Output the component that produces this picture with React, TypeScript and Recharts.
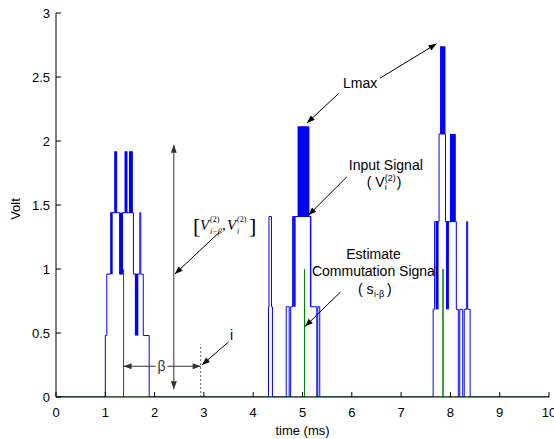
import React from "react";
import {
  LineChart,
  Line,
  XAxis,
  YAxis,
  ReferenceLine,
  ReferenceArea,
  ReferenceDot,
  Label,
} from "recharts";

const W = 554;
const H = 439;
const FONT = "'Liberation Sans', Arial, Helvetica, sans-serif";
const SERIF = "'Liberation Serif', 'Times New Roman', serif";

const xTicks = [0, 1, 2, 3, 4, 5, 6, 7, 8, 9, 10];
const yTicks = [0, 0.5, 1, 1.5, 2, 2.5, 3];

// input signal V_i^(2): level changes as [time (ms), new level (V)]
const burst1 = [
  [1.0, 0.48], [1.03, 0.96], [1.11, 1.44], [1.29, 0.96], [1.35, 1.44],
  [1.57, 0.96], [1.7, 1.44], [1.72, 0.96], [1.77, 0.48], [1.89, 0],
];
const burst2 = [
  [4.31, 0.705], [4.32, 1.41], [4.37, 0.705], [4.39, 0], [4.67, 0.705],
  [4.73, 0], [4.76, 0.705], [4.8, 1.41], [5.17, 0.705], [5.29, 0],
  [5.31, 0.705], [5.35, 0],
];
const burst3 = [
  [7.65, 0.685], [7.68, 1.37], [7.77, 2.055], [7.9, 1.37], [8.12, 0.685],
  [8.16, 0], [8.19, 0.685], [8.25, 0], [8.28, 0.685], [8.33, 1.37],
  [8.35, 0.685], [8.4, 0],
];

// fast switching regions (drawn solid): [t1, t2, low V, high V]
const switching = [
  [1.11, 1.15, 0.96, 1.44], [1.18, 1.24, 1.44, 1.92], [1.29, 1.35, 0.96, 1.44],
  [1.39, 1.45, 1.44, 1.92], [1.48, 1.56, 1.44, 1.92], [1.6, 1.67, 0.48, 0.96],
  [4.81, 4.86, 0.705, 1.41], [4.9, 5.14, 1.41, 2.115], [5.15, 5.17, 0.705, 1.41],
  [7.7, 7.76, 0.685, 1.37], [7.79, 7.9, 2.055, 2.74], [7.91, 7.97, 0.685, 1.37],
  [7.99, 8.11, 1.37, 2.055],
];

// estimate commutation signal s_{i-beta}
const commTimes = [1.37, 5.04, 7.85];
const commLevel = 1;

// annotation arrows: [x1, y1, x2, y2, double headed]
const arrows: [number, number, number, number, boolean][] = [
  [5.73, 2.37, 5.09, 2.14, false],
  [6.57, 2.49, 7.72, 2.76, false],
  [5.9, 1.72, 5.12, 1.42, false],
  [5.77, 0.82, 5.05, 0.55, false],
  [3.32, 1.29, 2.41, 0.96, false],
  [3.5, 0.43, 2.96, 0.25, false],
];
const gapArrows: [number, number, number, number][] = [
  [2.39, 0.06, 2.39, 1.97],
  [1.37, 0.24, 2.935, 0.24],
];
const markerLine = [2.935, 0, 2.935, 0.41];

const noteX = [6.17, 6.69, 6.44, 6.47, 3.56];
const noteY = [2.45, 1.81, 1.12, 0.98, 0.48];
const noteText = ["Lmax", "Input Signal", "Estimate", "Commutation Signal", "i"];

function steps(changes: number[][]) {
  const pts: { t: number; v: number }[] = [{ t: 0, v: 0 }];
  let cur = 0;
  for (const [t, v] of changes) {
    pts.push({ t, v: cur });
    pts.push({ t, v });
    cur = v;
  }
  pts.push({ t: 10, v: cur });
  return pts;
}

const inputData = steps([...burst1, ...burst2, ...burst3]);
const commData = steps(commTimes.flatMap((t) => [[t, commLevel], [t, 0]]));

function head(x: number, y: number, ang: number) {
  const L = 8;
  const w = 3;
  const bx = x - L * Math.cos(ang);
  const by = y - L * Math.sin(ang);
  const px = -Math.sin(ang) * w;
  const py = Math.cos(ang) * w;
  return `${x},${y} ${bx + px},${by + py} ${bx - px},${by - py}`;
}

function arrowShape(both: boolean, color: string) {
  return (p: any) => {
    const { x1, y1, x2, y2 } = p;
    const a = Math.atan2(y2 - y1, x2 - x1);
    return (
      <g>
        <line x1={x1} y1={y1} x2={x2} y2={y2} stroke={color} strokeWidth={1} />
        <polygon points={head(x2, y2, a)} fill={color} />
        {both && <polygon points={head(x1, y1, a + Math.PI)} fill={color} />}
      </g>
    );
  };
}

const BottomTick = (p: any) => (
  <g>
    <line x1={p.x} y1={p.y} x2={p.x} y2={p.y - 5} stroke="#000" />
    <text x={p.x} y={p.y + 20} textAnchor="middle" fontSize={13} fontFamily={FONT} fill="#000">
      {p.payload.value}
    </text>
  </g>
);
const TopTick = (p: any) => (
  <line x1={p.x} y1={p.y} x2={p.x} y2={p.y + 5} stroke="#000" />
);
const LeftTick = (p: any) => (
  <g>
    <line x1={p.x} y1={p.y} x2={p.x + 5} y2={p.y} stroke="#000" />
    <text x={p.x - 6} y={p.y + 4.5} textAnchor="end" fontSize={13} fontFamily={FONT} fill="#000">
      {p.payload.value}
    </text>
  </g>
);
const RightTick = (p: any) => (
  <line x1={p.x} y1={p.y} x2={p.x - 5} y2={p.y} stroke="#000" />
);

const XTitle = (p: any) => {
  const vb = p.viewBox ?? { x: 56, y: 397, width: 493, height: 42 };
  return (
    <text x={vb.x + vb.width / 2} y={vb.y + 38} textAnchor="middle" fontSize={13} fontFamily={FONT} fill="#000">
      time (ms)
    </text>
  );
};
const YTitle = (p: any) => {
  const vb = p.viewBox ?? { x: 0, y: 13, width: 56, height: 384 };
  const cx = vb.x + 15;
  const cy = vb.y + vb.height / 2 + 4;
  return (
    <text x={cx} y={cy} dy="0.35em" textAnchor="middle" fontSize={13} fontFamily={FONT} fill="#000" transform={`rotate(-90, ${cx}, ${cy})`}>
      Volt
    </text>
  );
};

const VLabel = (p: any) => {
  const x0 = p.cx - 19;
  const y = p.cy + 5;
  return (
    <g fontFamily={FONT} fill="#000">
      <text x={x0} y={y} fontSize={14}>( V</text>
      <text x={x0 + 18} y={y - 6} fontSize={9}>(2)</text>
      <text x={x0 + 18} y={y + 3} fontSize={9}>i</text>
      <text x={x0 + 30} y={y} fontSize={14}>)</text>
    </g>
  );
};
const SLabel = (p: any) => {
  const x0 = p.cx - 16;
  const y = p.cy + 5;
  return (
    <g fontFamily={FONT} fill="#000">
      <text x={x0} y={y} fontSize={14}>( s</text>
      <text x={x0 + 16} y={y + 3} fontSize={9}>i-β</text>
      <text x={x0 + 29} y={y} fontSize={14}>)</text>
    </g>
  );
};
const BracketLabel = (p: any) => {
  const x0 = p.cx;
  const y = p.cy + 5;
  return (
    <g fontFamily={SERIF} fill="#000">
      <text x={x0} y={y + 3} fontSize={22}>[</text>
      <text x={x0 + 7} y={y} fontSize={15} fontStyle="italic">V</text>
      <text x={x0 + 17} y={y - 8} fontSize={8}>(2)</text>
      <text x={x0 + 17} y={y + 4} fontSize={8} fontStyle="italic">i−β</text>
      <text x={x0 + 29} y={y} fontSize={15}>,</text>
      <text x={x0 + 34} y={y} fontSize={15} fontStyle="italic">V</text>
      <text x={x0 + 44} y={y - 8} fontSize={8}>(2)</text>
      <text x={x0 + 44} y={y + 4} fontSize={8} fontStyle="italic">i</text>
      <text x={x0 + 56} y={y + 3} fontSize={22}>]</text>
    </g>
  );
};
const BetaLabel = (p: any) => (
  <g>
    <rect x={p.cx - 6} y={p.cy - 8} width={12} height={16} fill="#fff" />
    <text x={p.cx} y={p.cy + 5} textAnchor="middle" fontSize={14} fontFamily={FONT} fill="#333">
      β
    </text>
  </g>
);

export default function App() {
  return (
    <div style={{ position: "absolute", left: 0, top: 0, width: W, height: H, background: "#fff" }}>
      <LineChart width={W} height={H} margin={{ top: 13, right: 5, bottom: 0, left: 0 }}>
        <XAxis
          dataKey="t"
          type="number"
          domain={[0, 10]}
          ticks={xTicks}
          interval={0}
          height={42}
          tickSize={0}
          tickMargin={0}
          tick={BottomTick}
          axisLine={{ stroke: "#000" }}
          allowDataOverflow
        >
          <Label content={XTitle} />
        </XAxis>
        <XAxis
          xAxisId="top"
          orientation="top"
          type="number"
          domain={[0, 10]}
          ticks={xTicks}
          interval={0}
          height={0}
          tickSize={0}
          tickMargin={0}
          tick={TopTick}
          axisLine={{ stroke: "#000" }}
        />
        <YAxis
          type="number"
          domain={[0, 3]}
          ticks={yTicks}
          interval={0}
          width={56}
          tickSize={0}
          tickMargin={0}
          tick={LeftTick}
          axisLine={{ stroke: "#000" }}
          allowDataOverflow
        >
          <Label content={YTitle} />
        </YAxis>
        <YAxis
          yAxisId="right"
          orientation="right"
          type="number"
          domain={[0, 3]}
          ticks={yTicks}
          interval={0}
          width={0}
          tickSize={0}
          tickMargin={0}
          tick={RightTick}
          axisLine={{ stroke: "#000" }}
        />
        {switching.map(([t1, t2, lo, hi], i) => (
          <ReferenceArea
            key={"sw" + i}
            x1={t1}
            x2={t2}
            y1={lo}
            y2={hi}
            fill="#0000ff"
            fillOpacity={1}
            stroke="none"
          />
        ))}
        <Line
          data={inputData}
          dataKey="v"
          type="linear"
          stroke="#0000ff"
          strokeWidth={1}
          dot={false}
          activeDot={false}
          isAnimationActive={false}
        />
        <Line
          data={commData}
          dataKey="v"
          type="linear"
          stroke="#008000"
          strokeWidth={1}
          dot={false}
          activeDot={false}
          isAnimationActive={false}
        />
        <ReferenceLine
          segment={[{ x: markerLine[0], y: markerLine[1] }, { x: markerLine[2], y: markerLine[3] }]}
          stroke="#666"
          strokeDasharray="2 2"
        />
        {gapArrows.map(([x1, y1, x2, y2], i) => (
          <ReferenceLine
            key={"ga" + i}
            segment={[{ x: x1, y: y1 }, { x: x2, y: y2 }]}
            shape={arrowShape(true, "#333")}
          />
        ))}
        {arrows.map(([x1, y1, x2, y2, both], i) => (
          <ReferenceLine
            key={"ar" + i}
            segment={[{ x: x1, y: y1 }, { x: x2, y: y2 }]}
            shape={arrowShape(both, "#000")}
          />
        ))}
        {noteText.map((s, i) => (
          <ReferenceDot
            key={"nt" + i}
            x={noteX[i]}
            y={noteY[i]}
            r={0}
            shape={(p: any) => (
              <text x={p.cx} y={p.cy} dy="0.35em" textAnchor="middle" fontSize={14} fontFamily={FONT} fill="#000">
                {s}
              </text>
            )}
          />
        ))}
        <ReferenceDot x={6.69} y={1.68} r={0} shape={VLabel} />
        <ReferenceDot x={6.45} y={0.84} r={0} shape={SLabel} />
        <ReferenceDot x={2.78} y={1.34} r={0} shape={BracketLabel} />
        <ReferenceDot x={2.14} y={0.24} r={0} shape={BetaLabel} />
      </LineChart>
    </div>
  );
}
